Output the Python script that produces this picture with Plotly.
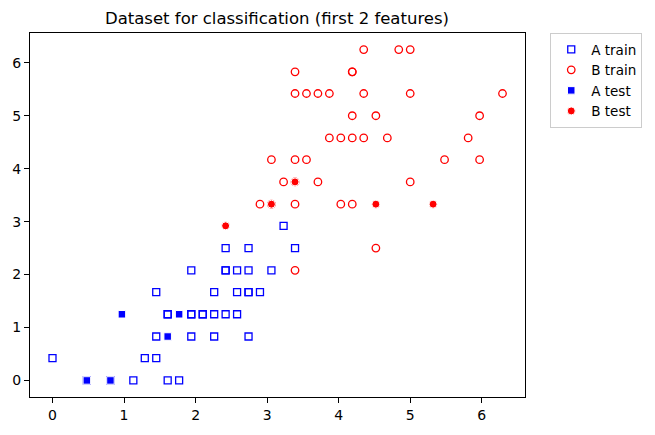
import plotly.graph_objects as go

# ---- data ----
a_train_x = [0.00, 0.48, 0.81, 1.13, 1.61, 1.77, 1.29, 1.45, 1.45, 1.94, 2.26, 2.74,
             1.61, 1.61, 1.94, 1.94, 2.10, 2.10, 2.26, 2.42, 2.58,
             1.45, 2.26, 2.58, 2.74, 2.74, 2.90,
             1.94, 2.42, 2.42, 2.58, 2.74, 3.06,
             2.42, 2.74, 3.39, 3.23]
a_train_y = [0.42, 0.00, 0.00, 0.00, 0.00, 0.00, 0.42, 0.42, 0.83, 0.83, 0.83, 0.83,
             1.25, 1.25, 1.25, 1.25, 1.25, 1.25, 1.25, 1.25, 1.25,
             1.67, 1.67, 1.67, 1.67, 1.67, 1.67,
             2.08, 2.08, 2.08, 2.08, 2.08, 2.08,
             2.50, 2.50, 2.50, 2.92]

b_train_x = [2.90, 3.06, 3.39, 4.03, 4.19,
             3.39, 4.52,
             3.23, 3.39, 3.71, 5.00,
             3.06, 3.39, 3.55, 5.48, 5.97,
             3.87, 4.03, 4.19, 4.35, 4.68, 5.81,
             4.19, 4.52, 5.97,
             3.39, 3.55, 3.71, 3.87, 4.35, 5.00, 6.29,
             3.39, 4.19, 4.19,
             4.35, 4.84, 5.00]
b_train_y = [3.33, 3.33, 3.33, 3.33, 3.33,
             2.08, 2.50,
             3.75, 3.75, 3.75, 3.75,
             4.17, 4.17, 4.17, 4.17, 4.17,
             4.58, 4.58, 4.58, 4.58, 4.58, 4.58,
             5.00, 5.00, 5.00,
             5.42, 5.42, 5.42, 5.42, 5.42, 5.42, 5.42,
             5.83, 5.83, 5.83,
             6.25, 6.25, 6.25]

a_test_x = [0.48, 0.81, 0.97, 1.77, 1.61]
a_test_y = [0.00, 0.00, 1.25, 1.25, 0.83]

b_test_x = [2.42, 3.06, 3.39, 4.52, 5.32]
b_test_y = [2.92, 3.33, 3.75, 3.33, 3.33]

BLUE = "#0000ff"
RED = "#ff0000"

fig = go.Figure()
fig.add_trace(go.Scatter(
    x=a_train_x, y=a_train_y, mode="markers", name="A train",
    marker=dict(symbol="square-open", size=7, color=BLUE, line=dict(width=1.3, color=BLUE))))
fig.add_trace(go.Scatter(
    x=b_train_x, y=b_train_y, mode="markers", name="B train",
    marker=dict(symbol="circle-open", size=7.5, color=RED, line=dict(width=1.3, color=RED))))
fig.add_trace(go.Scatter(
    x=a_test_x, y=a_test_y, mode="markers", name="A test",
    marker=dict(symbol="square", size=7.5, color=BLUE, line=dict(width=1, color="white"))))
fig.add_trace(go.Scatter(
    x=b_test_x, y=b_test_y, mode="markers", name="B test",
    marker=dict(symbol="circle", size=8, color=RED, line=dict(width=1, color="white"))))

axis_common = dict(
    showline=True, linecolor="black", linewidth=1.1, mirror=True,
    ticks="outside", ticklen=5, tickwidth=1.1, tickcolor="black",
    showgrid=False, zeroline=False, tickfont=dict(size=14, color="black"),
    dtick=1, tick0=0,
)

fig.update_layout(
    width=655, height=435,
    margin=dict(l=29, r=130, t=33, b=33),
    paper_bgcolor="white", plot_bgcolor="white",
    font=dict(family="DejaVu Sans", size=14, color="black"),
    title=dict(text="Dataset for classification (first 2 features)",
               x=(29 + 525) / 2 / 655, xanchor="center",
               y=1 - 18 / 435, yanchor="middle", yref="container",
               font=dict(size=16.5, color="black")),
    xaxis=dict(range=[-0.3145, 6.6045], **axis_common),
    yaxis=dict(range=[-0.3125, 6.5625], **axis_common),
    legend=dict(x=1.051, xanchor="left", y=1.0, yanchor="top",
                bordercolor="#cccccc", borderwidth=1, bgcolor="white",
                font=dict(size=13.5, color="black")),
)

fig.write_html("out.html")
